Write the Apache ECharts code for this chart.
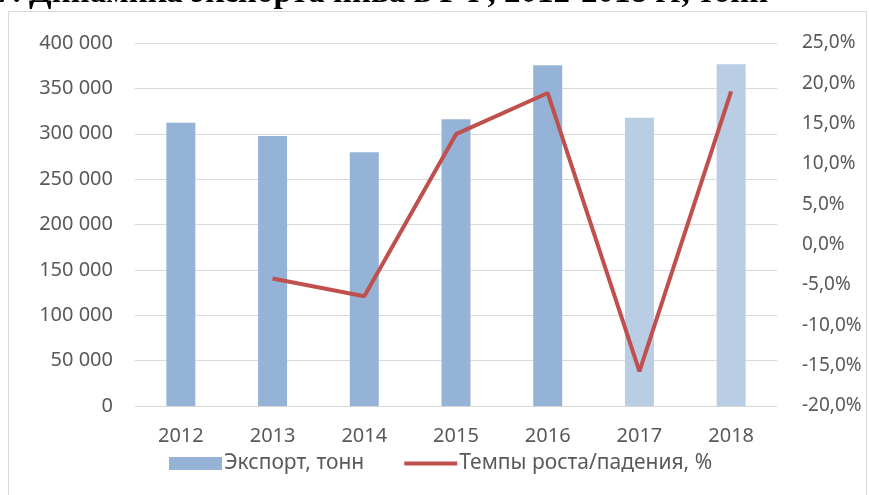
<!DOCTYPE html>
<html><head><meta charset="utf-8">
<script src="https://cdn.jsdelivr.net/npm/echarts@6/dist/echarts.min.js"></script>
<style>html,body{margin:0;padding:0;background:#fff}#c{width:869px;height:495px}</style>
</head><body><div id="c"></div>
<script>
const years = ['2012','2013','2014','2015','2016','2017','2018'];
const exportTons = [312000, 297500, 279500, 316000, 375500, 317500, 376500];
const growthPct = [null, -4.2, -6.4, 13.7, 18.8, -15.7, 19.0];
const lightYears = ['2017','2018'];
const titleText = '7. Динамика экспорта пива в РФ, 2012-2018 гг, тонн';

const font = 'Noto Sans';
const chart = echarts.init(document.getElementById('c'));
chart.setOption({
  animation: false,
  backgroundColor: '#fff',
  graphic: [
    {type:'rect', shape:{x:8.5,y:11.5,width:858,height:500}, style:{fill:'none',stroke:'#d9d9d9',lineWidth:1}, z:-1},
    {type:'text', x:-4, y:10, style:{text:titleText, font:'bold 33px "Liberation Serif"', fill:'#000', textAlign:'left', textVerticalAlign:'bottom'}}
  ],
  grid: {left:135, right:92, top:43, bottom:89},
  legend: {
    bottom: 16, left: 164, itemGap: 40, itemWidth: 53, itemHeight: 13,
    textStyle: {fontFamily: font, fontSize: 21, color: '#595959', padding:[0,0,0,-3]},
    data: [
      {name:'Экспорт, тонн', icon:'rect'},
      {name:'Темпы роста/падения, %', icon:'path://M0,0 L56,0 L56,4 L0,4 Z'}
    ]
  },
  xAxis: {
    type:'category', data: years,
    axisLine:{show:true, lineStyle:{color:'#d9d9d9'}}, axisTick:{show:false},
    axisLabel:{fontFamily:font, fontSize:20, color:'#595959', margin:20}
  },
  yAxis: [
    {type:'value', min:0, max:400000, interval:50000,
     axisLabel:{fontFamily:font, fontSize:20, color:'#595959', margin:22,
       formatter: v => v===0 ? '0' : String(v).replace(/\B(?=(\d{3})+(?!\d))/g,' ')},
     splitLine:{lineStyle:{color:'#d9d9d9'}}, axisLine:{show:false}, axisTick:{show:false}},
    {type:'value', min:-20, max:25, interval:5,
     axisLabel:{fontFamily:font, fontSize:19, color:'#595959', margin:25,
       formatter: v => v.toFixed(1).replace('.',',') + '%'},
     splitLine:{show:false}, axisLine:{show:false}, axisTick:{show:false}}
  ],
  series: [
    {name:'Экспорт, тонн', type:'bar', barWidth:29, itemStyle:{color:'#95b3d7'},
     data: exportTons.map((v,i)=> lightYears.includes(years[i]) ? {value:v, itemStyle:{color:'#b9cde5'}} : v)},
    {name:'Темпы роста/падения, %', type:'line', yAxisIndex:1, data: growthPct,
     symbol:'none', lineStyle:{color:'#c0504d', width:4}, itemStyle:{color:'#c0504d'}}
  ]
});
</script></body></html>
